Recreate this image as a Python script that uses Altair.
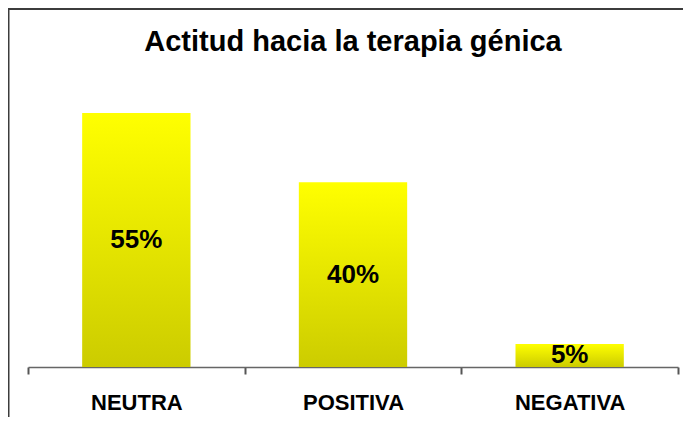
import altair as alt
import pandas as pd

categories = ["NEUTRA", "POSITIVA", "NEGATIVA"]
values = [55, 40, 5]
labels = ["55%", "40%", "5%"]

df = pd.DataFrame({"cat": categories, "val": values, "lab": labels})

FONT = "Liberation Sans"
W, H = 650, 277

base = alt.Chart(df)

x_enc = alt.X(
    "cat:N", sort=categories, title=None,
    scale=alt.Scale(paddingInner=0, paddingOuter=0),
    axis=alt.Axis(
        labelAngle=0, labelFont=FONT, labelFontSize=22, labelFontWeight="bold",
        labelColor="#000000", labelPadding=18, tickBand="extent", tickSize=7,
        tickColor="#555555", tickWidth=2, domainColor="#666666", domainWidth=1.5,
        grid=False,
    ),
)
y_scale = alt.Scale(domain=[0, 60])

bars = base.mark_bar(
    width=alt.RelativeBandSize(0.5),
    color=alt.Gradient(
        gradient="linear",
        stops=[alt.GradientStop(color="#FFFF00", offset=0),
               alt.GradientStop(color="#CCCC00", offset=1)],
        x1=0, x2=0, y1=0, y2=1,
    ),
).encode(x=x_enc, y=alt.Y("val:Q", scale=y_scale, axis=None))

texts = base.transform_calculate(mid="datum.val / 2").mark_text(
    font=FONT, fontSize=26, fontWeight="bold", color="#000000", baseline="middle"
).encode(x=alt.X("cat:N", sort=categories), y=alt.Y("mid:Q", scale=y_scale), text="lab:N")

border = alt.Chart(pd.DataFrame({"a": [0]})).mark_rect(
    fillOpacity=0, stroke="#3C3C3C", strokeWidth=2
).encode(
    x=alt.value(-19.5), x2=alt.value(720), y=alt.value(-81), y2=alt.value(420)
)

chart = alt.layer(bars, texts, border).properties(
    width=W, height=H,
    title=alt.TitleParams(
        "Actitud hacia la terapia génica", font=FONT, fontSize=29, fontWeight="bold",
        color="#000000", anchor="middle", baseline="alphabetic", offset=-72,
        frame="group",
    ),
    autosize=alt.AutoSizeParams(type="none"),
    padding={"left": 20, "top": 82, "right": 5, "bottom": 50},
).configure(background="#FFFFFF").configure_view(strokeWidth=0)

chart.save("out.html", embed_options={"renderer": "svg", "actions": False})
